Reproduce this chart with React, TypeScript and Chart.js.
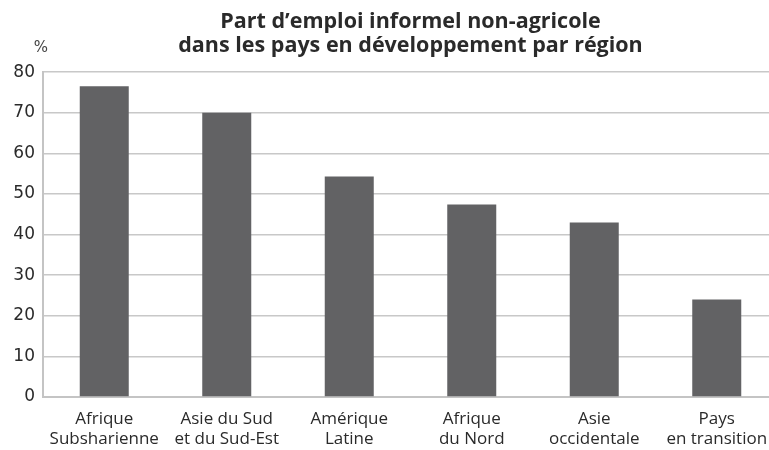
import React, { useEffect, useRef } from "react";
import { Chart, registerables } from "chart.js";

Chart.register(...registerables);

const categories: string[][] = [
  ["Afrique", "Subsharienne"],
  ["Asie du Sud", "et du Sud-Est"],
  ["Amérique", "Latine"],
  ["Afrique", "du Nord"],
  ["Asie", "occidentale"],
  ["Pays", "en transition"],
];
const values: number[] = [76.5, 70, 54.3, 47.4, 43, 24];
const yTicks: number[] = [0, 10, 20, 30, 40, 50, 60, 70, 80];
const titleLines: string[] = [
  "Part d\u2019emploi informel non-agricole",
  "dans les pays en développement par région",
];
const unitLabel = "%";

const unitPlugin = {
  id: "unitLabel",
  afterDraw(chart: any) {
    const { ctx, chartArea } = chart;
    ctx.save();
    ctx.font = "15px 'DejaVu Sans'";
    ctx.fillStyle = "#444444";
    ctx.textAlign = "center";
    ctx.textBaseline = "middle";
    ctx.fillText(unitLabel, chartArea.left - 2, chartArea.top - 24);
    ctx.restore();
  },
};

export default function App() {
  const ref = useRef<HTMLCanvasElement>(null);
  useEffect(() => {
    if (!ref.current) return;
    const chart = new Chart(ref.current, {
      type: "bar",
      data: {
        labels: categories,
        datasets: [
          {
            data: values,
            backgroundColor: "#626264",
            borderWidth: 0,
            barPercentage: 0.4,
            categoryPercentage: 1,
          },
        ],
      },
      options: {
        animation: false,
        responsive: true,
        maintainAspectRatio: false,
        layout: { padding: { left: 0, right: 12, top: 0, bottom: 0 } },
        plugins: {
          legend: { display: false },
          tooltip: { enabled: false },
          title: {
            display: true,
            text: titleLines,
            fullSize: false,
            color: "#2a2a2a",
            font: { family: "'Open Sans'", size: 21.5, weight: "bold", lineHeight: 1.12 },
            padding: { top: 10, bottom: 14 },
          },
        },
        scales: {
          x: {
            grid: { display: false, drawTicks: false },
            border: { display: true, color: "#c4c4c4", width: 2 },
            ticks: {
              color: "#2a2a2a",
              font: { family: "'Open Sans'", size: 17, lineHeight: 1.18 },
              padding: 12,
              maxRotation: 0,
              autoSkip: false,
            },
            afterFit: (s: any) => {
              s.height = 53;
            },
          },
          y: {
            min: 0,
            max: 80,
            afterBuildTicks: (s: any) => {
              s.ticks = yTicks.map((v) => ({ value: v }));
            },
            grid: { color: "#c8c8c8", lineWidth: 1.5, drawTicks: false },
            border: { display: true, color: "#c4c4c4", width: 2 },
            ticks: {
              color: "#2a2a2a",
              font: { family: "'DejaVu Sans'", size: 17 },
              padding: 8,
            },
            afterFit: (s: any) => {
              s.width = 43;
            },
          },
        },
      },
      plugins: [unitPlugin],
    });
    return () => chart.destroy();
  }, []);
  return (
    <div
      style={{
        position: "fixed",
        left: 0,
        top: 0,
        width: 769,
        height: 450,
        overflow: "hidden",
        background: "#ffffff",
      }}
    >
      <div style={{ position: "relative", width: 790, height: 450 }}>
        <canvas ref={ref} />
      </div>
    </div>
  );
}
